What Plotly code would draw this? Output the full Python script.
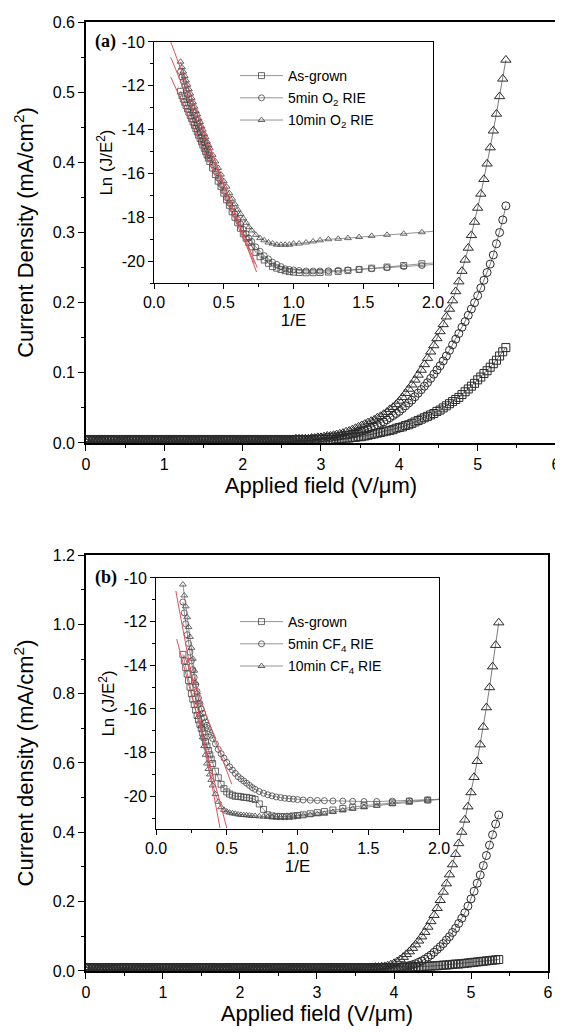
import plotly.graph_objects as go

# ---------------- data: main panels (applied field in V/um, J in mA/cm2) ----------------
field = [0.00, 0.04, 0.08, 0.12, 0.16, 0.20, 0.24, 0.28, 0.32, 0.36,
         0.40, 0.44, 0.48, 0.52, 0.56, 0.60, 0.64, 0.68, 0.72, 0.76,
         0.80, 0.84, 0.88, 0.92, 0.96, 1.00, 1.04, 1.08, 1.12, 1.16,
         1.20, 1.24, 1.28, 1.32, 1.36, 1.40, 1.44, 1.48, 1.52, 1.56,
         1.60, 1.64, 1.68, 1.72, 1.76, 1.80, 1.84, 1.88, 1.92, 1.96,
         2.00, 2.04, 2.08, 2.12, 2.16, 2.20, 2.24, 2.28, 2.32, 2.36,
         2.40, 2.44, 2.48, 2.52, 2.56, 2.60, 2.64, 2.68, 2.72, 2.76,
         2.80, 2.84, 2.88, 2.92, 2.96, 3.00, 3.04, 3.08, 3.12, 3.16,
         3.20, 3.24, 3.28, 3.32, 3.36, 3.40, 3.44, 3.48, 3.52, 3.56,
         3.60, 3.64, 3.68, 3.72, 3.76, 3.80, 3.84, 3.88, 3.92, 3.96,
         4.00, 4.04, 4.08, 4.12, 4.16, 4.20, 4.24, 4.28, 4.32, 4.36,
         4.40, 4.44, 4.48, 4.52, 4.56, 4.60, 4.64, 4.68, 4.72, 4.76,
         4.80, 4.84, 4.88, 4.92, 4.96, 5.00, 5.04, 5.08, 5.12, 5.16,
         5.20, 5.24, 5.28, 5.32, 5.36]

# (a) O2 RIE
ja_grown = [0.005, 0.005, 0.005, 0.005, 0.005, 0.005, 0.005, 0.005, 0.005, 0.005,
            0.005, 0.005, 0.005, 0.005, 0.005, 0.005, 0.005, 0.005, 0.005, 0.005,
            0.005, 0.005, 0.005, 0.005, 0.005, 0.005, 0.005, 0.005, 0.005, 0.005,
            0.005, 0.005, 0.005, 0.005, 0.005, 0.005, 0.005, 0.005, 0.005, 0.005,
            0.005, 0.005, 0.005, 0.005, 0.005, 0.005, 0.005, 0.005, 0.005, 0.005,
            0.005, 0.005, 0.005, 0.005, 0.005, 0.005, 0.005, 0.005, 0.005, 0.005,
            0.005, 0.005, 0.005, 0.005, 0.005, 0.005, 0.005, 0.005, 0.005, 0.005,
            0.005, 0.005, 0.005, 0.005, 0.005, 0.005, 0.005, 0.005, 0.005, 0.005,
            0.006, 0.006, 0.006, 0.007, 0.007, 0.008, 0.008, 0.009, 0.009, 0.010,
            0.011, 0.012, 0.013, 0.014, 0.015, 0.016, 0.017, 0.018, 0.019, 0.021,
            0.022, 0.023, 0.025, 0.026, 0.028, 0.030, 0.032, 0.034, 0.036, 0.038,
            0.040, 0.042, 0.045, 0.047, 0.050, 0.053, 0.056, 0.059, 0.062, 0.065,
            0.069, 0.073, 0.077, 0.081, 0.085, 0.090, 0.094, 0.099, 0.103, 0.108,
            0.113, 0.118, 0.124, 0.130, 0.136]
ja_5min = [0.005, 0.005, 0.005, 0.005, 0.005, 0.005, 0.005, 0.005, 0.005, 0.005,
           0.005, 0.005, 0.005, 0.005, 0.005, 0.005, 0.005, 0.005, 0.005, 0.005,
           0.005, 0.005, 0.005, 0.005, 0.005, 0.005, 0.005, 0.005, 0.005, 0.005,
           0.005, 0.005, 0.005, 0.005, 0.005, 0.005, 0.005, 0.005, 0.005, 0.005,
           0.005, 0.005, 0.005, 0.005, 0.005, 0.005, 0.005, 0.005, 0.005, 0.005,
           0.005, 0.005, 0.005, 0.005, 0.005, 0.005, 0.005, 0.005, 0.005, 0.005,
           0.005, 0.005, 0.005, 0.005, 0.005, 0.005, 0.005, 0.005, 0.005, 0.005,
           0.005, 0.005, 0.006, 0.006, 0.006, 0.007, 0.007, 0.008, 0.008, 0.009,
           0.009, 0.010, 0.011, 0.011, 0.012, 0.013, 0.014, 0.016, 0.017, 0.018,
           0.020, 0.022, 0.024, 0.026, 0.028, 0.030, 0.033, 0.036, 0.039, 0.042,
           0.045, 0.049, 0.053, 0.057, 0.061, 0.066, 0.071, 0.076, 0.081, 0.086,
           0.092, 0.098, 0.104, 0.110, 0.117, 0.124, 0.132, 0.140, 0.148, 0.156,
           0.165, 0.173, 0.182, 0.191, 0.200, 0.210, 0.221, 0.232, 0.243, 0.255,
           0.268, 0.284, 0.300, 0.318, 0.338]
ja_10min = [0.005, 0.005, 0.005, 0.005, 0.005, 0.005, 0.005, 0.005, 0.005, 0.005,
            0.005, 0.005, 0.005, 0.005, 0.005, 0.005, 0.005, 0.005, 0.005, 0.005,
            0.005, 0.005, 0.005, 0.005, 0.005, 0.005, 0.005, 0.005, 0.005, 0.005,
            0.005, 0.005, 0.005, 0.005, 0.005, 0.005, 0.005, 0.005, 0.005, 0.005,
            0.005, 0.005, 0.005, 0.005, 0.005, 0.005, 0.005, 0.005, 0.005, 0.005,
            0.005, 0.005, 0.005, 0.005, 0.005, 0.005, 0.005, 0.005, 0.005, 0.005,
            0.005, 0.005, 0.005, 0.005, 0.005, 0.005, 0.005, 0.006, 0.006, 0.006,
            0.006, 0.006, 0.007, 0.007, 0.008, 0.008, 0.009, 0.010, 0.010, 0.011,
            0.012, 0.013, 0.014, 0.016, 0.017, 0.019, 0.021, 0.023, 0.025, 0.027,
            0.029, 0.031, 0.033, 0.036, 0.038, 0.041, 0.044, 0.048, 0.051, 0.055,
            0.060, 0.065, 0.071, 0.077, 0.083, 0.090, 0.097, 0.104, 0.112, 0.121,
            0.130, 0.139, 0.149, 0.159, 0.169, 0.180, 0.191, 0.203, 0.216, 0.230,
            0.245, 0.261, 0.278, 0.296, 0.315, 0.335, 0.355, 0.376, 0.398, 0.421,
            0.445, 0.469, 0.494, 0.519, 0.546]

# (b) CF4 RIE
jb_grown = [0.010, 0.010, 0.010, 0.010, 0.010, 0.010, 0.010, 0.010, 0.010, 0.010,
            0.010, 0.010, 0.010, 0.010, 0.010, 0.010, 0.010, 0.010, 0.010, 0.010,
            0.010, 0.010, 0.010, 0.010, 0.010, 0.010, 0.010, 0.010, 0.010, 0.010,
            0.010, 0.010, 0.010, 0.010, 0.010, 0.010, 0.010, 0.010, 0.010, 0.010,
            0.010, 0.010, 0.010, 0.010, 0.010, 0.010, 0.010, 0.010, 0.010, 0.010,
            0.010, 0.010, 0.010, 0.010, 0.010, 0.010, 0.010, 0.010, 0.010, 0.010,
            0.010, 0.010, 0.010, 0.010, 0.010, 0.010, 0.010, 0.010, 0.010, 0.010,
            0.010, 0.010, 0.010, 0.010, 0.010, 0.010, 0.010, 0.010, 0.010, 0.010,
            0.010, 0.010, 0.010, 0.010, 0.010, 0.010, 0.010, 0.010, 0.010, 0.010,
            0.010, 0.010, 0.010, 0.010, 0.010, 0.010, 0.010, 0.010, 0.010, 0.010,
            0.010, 0.010, 0.010, 0.011, 0.011, 0.011, 0.012, 0.012, 0.012, 0.013,
            0.013, 0.014, 0.014, 0.015, 0.015, 0.016, 0.017, 0.017, 0.018, 0.019,
            0.020, 0.020, 0.021, 0.022, 0.023, 0.024, 0.025, 0.026, 0.027, 0.028,
            0.029, 0.030, 0.031, 0.032, 0.033]
jb_5min = [0.010, 0.010, 0.010, 0.010, 0.010, 0.010, 0.010, 0.010, 0.010, 0.010,
           0.010, 0.010, 0.010, 0.010, 0.010, 0.010, 0.010, 0.010, 0.010, 0.010,
           0.010, 0.010, 0.010, 0.010, 0.010, 0.010, 0.010, 0.010, 0.010, 0.010,
           0.010, 0.010, 0.010, 0.010, 0.010, 0.010, 0.010, 0.010, 0.010, 0.010,
           0.010, 0.010, 0.010, 0.010, 0.010, 0.010, 0.010, 0.010, 0.010, 0.010,
           0.010, 0.010, 0.010, 0.010, 0.010, 0.010, 0.010, 0.010, 0.010, 0.010,
           0.010, 0.010, 0.010, 0.010, 0.010, 0.010, 0.010, 0.010, 0.010, 0.010,
           0.010, 0.010, 0.010, 0.010, 0.010, 0.010, 0.010, 0.010, 0.010, 0.010,
           0.010, 0.010, 0.010, 0.010, 0.010, 0.010, 0.010, 0.010, 0.010, 0.010,
           0.010, 0.010, 0.010, 0.010, 0.010, 0.010, 0.010, 0.010, 0.010, 0.010,
           0.010, 0.010, 0.011, 0.012, 0.013, 0.016, 0.018, 0.021, 0.025, 0.029,
           0.034, 0.040, 0.046, 0.054, 0.062, 0.070, 0.079, 0.089, 0.099, 0.111,
           0.123, 0.137, 0.152, 0.168, 0.187, 0.208, 0.230, 0.253, 0.277, 0.304,
           0.333, 0.363, 0.393, 0.424, 0.450]
jb_10min = [0.010, 0.010, 0.010, 0.010, 0.010, 0.010, 0.010, 0.010, 0.010, 0.010,
            0.010, 0.010, 0.010, 0.010, 0.010, 0.010, 0.010, 0.010, 0.010, 0.010,
            0.010, 0.010, 0.010, 0.010, 0.010, 0.010, 0.010, 0.010, 0.010, 0.010,
            0.010, 0.010, 0.010, 0.010, 0.010, 0.010, 0.010, 0.010, 0.010, 0.010,
            0.010, 0.010, 0.010, 0.010, 0.010, 0.010, 0.010, 0.010, 0.010, 0.010,
            0.010, 0.010, 0.010, 0.010, 0.010, 0.010, 0.010, 0.010, 0.010, 0.010,
            0.010, 0.010, 0.010, 0.010, 0.010, 0.010, 0.010, 0.010, 0.010, 0.010,
            0.010, 0.010, 0.010, 0.010, 0.010, 0.010, 0.010, 0.010, 0.010, 0.010,
            0.010, 0.010, 0.010, 0.010, 0.010, 0.010, 0.010, 0.010, 0.010, 0.010,
            0.010, 0.010, 0.010, 0.010, 0.011, 0.011, 0.012, 0.013, 0.015, 0.018,
            0.022, 0.027, 0.033, 0.040, 0.048, 0.056, 0.066, 0.076, 0.087, 0.099,
            0.112, 0.127, 0.143, 0.161, 0.181, 0.204, 0.228, 0.252, 0.278, 0.307,
            0.337, 0.368, 0.401, 0.436, 0.474, 0.515, 0.559, 0.605, 0.653, 0.704,
            0.760, 0.818, 0.878, 0.940, 1.005]

# ---------------- data: insets, F-N plots (1/E vs Ln(J/E^2)) ----------------
inv_e = [0.19, 0.20, 0.21, 0.22, 0.23, 0.24, 0.25, 0.26, 0.27, 0.28,
         0.29, 0.30, 0.31, 0.32, 0.33, 0.34, 0.35, 0.36, 0.37, 0.38,
         0.39, 0.40, 0.42, 0.44, 0.46, 0.48, 0.50, 0.52, 0.54, 0.56,
         0.58, 0.60, 0.62, 0.64, 0.66, 0.68, 0.70, 0.73, 0.76, 0.79,
         0.82, 0.85, 0.88, 0.91, 0.94, 0.97, 1.00, 1.04, 1.09, 1.14,
         1.19, 1.25, 1.32, 1.39, 1.47, 1.56, 1.67, 1.79, 1.92, 2.08]

fn_a_grown = [-12.25, -12.45, -12.6, -12.75, -12.9, -13.05, -13.2, -13.35, -13.5, -13.65,
              -13.8, -13.95, -14.1, -14.25, -14.4, -14.55, -14.7, -14.85, -15.0, -15.15,
              -15.3, -15.45, -15.75, -16.05, -16.35, -16.6, -16.9, -17.2, -17.45, -17.75,
              -18.0, -18.25, -18.5, -18.75, -18.95, -19.15, -19.35, -19.6, -19.8, -19.95,
              -20.1, -20.25, -20.32, -20.38, -20.44, -20.48, -20.5, -20.52, -20.53, -20.53,
              -20.52, -20.5, -20.47, -20.43, -20.38, -20.32, -20.27, -20.2, -20.12, -20.05]
fn_a_5min = [-11.35, -11.6, -11.8, -12.0, -12.2, -12.4, -12.6, -12.8, -13.0, -13.2,
             -13.35, -13.55, -13.75, -13.9, -14.1, -14.3, -14.45, -14.6, -14.8, -14.95,
             -15.15, -15.3, -15.6, -15.9, -16.2, -16.5, -16.8, -17.1, -17.35, -17.6,
             -17.85, -18.1, -18.3, -18.55, -18.75, -18.95, -19.1, -19.35, -19.55, -19.75,
             -19.9, -20.05, -20.15, -20.25, -20.35, -20.38, -20.4, -20.43, -20.45, -20.45,
             -20.45, -20.44, -20.42, -20.4, -20.38, -20.35, -20.3, -20.25, -20.2, -20.12]
fn_a_10min = [-10.9, -11.15, -11.35, -11.55, -11.75, -11.95, -12.15, -12.35, -12.55, -12.75,
              -12.95, -13.15, -13.3, -13.5, -13.65, -13.85, -14.0, -14.2, -14.35, -14.55,
              -14.7, -14.85, -15.15, -15.45, -15.75, -16.05, -16.35, -16.6, -16.9, -17.15,
              -17.4, -17.65, -17.85, -18.05, -18.25, -18.45, -18.6, -18.8, -18.95, -19.05,
              -19.15, -19.2, -19.25, -19.25, -19.25, -19.25, -19.2, -19.2, -19.15, -19.1,
              -19.05, -19.0, -18.98, -18.95, -18.9, -18.85, -18.8, -18.75, -18.68, -18.6]

fn_b_grown = [-13.5, -13.8, -14.1, -14.4, -14.7, -15.0, -15.3, -15.55, -15.8, -16.05,
              -16.3, -16.5, -16.7, -16.9, -17.1, -17.3, -17.5, -17.7, -17.9, -18.1,
              -18.3, -18.5, -18.85, -19.15, -19.45, -19.65, -19.8, -19.9, -19.95, -20.0,
              -20.0, -20.02, -20.05, -20.05, -20.08, -20.1, -20.15, -20.35, -20.6, -20.85,
              -20.9, -20.92, -20.93, -20.93, -20.92, -20.9, -20.88, -20.85, -20.8, -20.75,
              -20.7, -20.63, -20.56, -20.5, -20.43, -20.37, -20.3, -20.23, -20.17, -20.1]
fn_b_5min = [-11.1, -11.6, -12.1, -12.6, -13.0, -13.4, -13.8, -14.2, -14.55, -14.9,
             -15.2, -15.5, -15.75, -16.0, -16.2, -16.4, -16.6, -16.75, -16.9, -17.05,
             -17.2, -17.35, -17.6, -17.85, -18.05, -18.25, -18.45, -18.65, -18.8, -18.95,
             -19.1, -19.2, -19.3, -19.4, -19.5, -19.6, -19.68, -19.78, -19.86, -19.93,
             -19.98, -20.03, -20.06, -20.09, -20.11, -20.13, -20.15, -20.17, -20.18, -20.19,
             -20.2, -20.21, -20.22, -20.23, -20.24, -20.24, -20.22, -20.2, -20.17, -20.12]
fn_b_10min = [-10.3, -10.8, -11.3, -11.8, -12.25, -12.7, -13.2, -13.7, -14.25, -14.8,
              -15.25, -15.7, -16.25, -16.8, -17.3, -17.7, -18.1, -18.5, -18.75, -19.0,
              -19.25, -19.5, -19.9, -20.25, -20.5, -20.62, -20.7, -20.75, -20.78, -20.8,
              -20.83, -20.85, -20.86, -20.87, -20.88, -20.9, -20.9, -20.92, -20.93, -20.94,
              -20.95, -20.95, -20.95, -20.95, -20.94, -20.92, -20.9, -20.88, -20.85, -20.82,
              -20.8, -20.72, -20.65, -20.57, -20.5, -20.43, -20.35, -20.27, -20.18, -20.1]

# linear F-N fits (red lines), start / end points
fit_a_x = [[0.12, 0.735], [0.12, 0.74], [0.12, 0.72]]
fit_a_y = [[-10.0, -20.5], [-10.7, -20.3], [-11.6, -20.1]]
fit_b_x = [[0.14, 0.452], [0.146, 0.50], [0.20, 0.535]]
fit_b_y = [[-10.6, -21.45], [-12.8, -21.45], [-13.55, -19.45]]

names_a = ['As-grown', '5min O<sub>2</sub> RIE', '10min O<sub>2</sub> RIE']
names_b = ['As-grown', '5min CF<sub>4</sub> RIE', '10min CF<sub>4</sub> RIE']
symbols = ['square-open', 'circle-open', 'triangle-up-open']
main_sizes = [8, 8, 9]

FONT = 'Liberation Sans'
fig = go.Figure()

# main curves
for xa, ya, series in [('x', 'y', [ja_grown, ja_5min, ja_10min]),
                       ('x3', 'y3', [jb_grown, jb_5min, jb_10min])]:
    for k in range(3):
        fig.add_trace(go.Scatter(
            x=field, y=series[k], mode='lines+markers',
            marker=dict(symbol=symbols[k], size=main_sizes[k], color='#2a2a2a',
                        line=dict(width=1)),
            line=dict(color='#444444', width=0.7),
            xaxis=xa, yaxis=ya, showlegend=False))

# inset curves (these carry the legends)
for xa, ya, series, names, leg in [('x2', 'y2', [fn_a_grown, fn_a_5min, fn_a_10min], names_a, 'legend'),
                                   ('x4', 'y4', [fn_b_grown, fn_b_5min, fn_b_10min], names_b, 'legend2')]:
    for k in range(3):
        fig.add_trace(go.Scatter(
            x=inv_e, y=series[k], mode='lines+markers', name=names[k],
            legendgroup=leg + str(k),
            marker=dict(symbol=symbols[k], size=6, color='#444444', line=dict(width=0.8)),
            line=dict(color='#777777', width=0.8),
            xaxis=xa, yaxis=ya, legend=leg))

# red fit lines on top
for xa, ya, fx, fy in [('x2', 'y2', fit_a_x, fit_a_y), ('x4', 'y4', fit_b_x, fit_b_y)]:
    for k in range(3):
        fig.add_trace(go.Scatter(x=fx[k], y=fy[k], mode='lines',
                                 line=dict(color='#e0505a', width=1),
                                 xaxis=xa, yaxis=ya, showlegend=False))

tickfont = dict(family=FONT, size=16, color='black')
titlefont = dict(family=FONT, size=22, color='black')
inset_title = dict(family=FONT, size=17, color='black')


def main_x(domain, anchor):
    return dict(domain=domain, anchor=anchor, range=[0, 6], dtick=1, tick0=0, automargin=False,
                ticks='outside', ticklen=6, tickwidth=1.3, tickcolor='black',
                minor=dict(dtick=0.5, ticks='outside', ticklen=3, tickwidth=1.2, tickcolor='black'),
                showline=True, linewidth=1.5, linecolor='black', mirror=True,
                showgrid=False, zeroline=False, tickfont=tickfont,
                title=dict(text='Applied field (V/\u03bcm)', font=titlefont, standoff=6))


def main_y(domain, anchor, top, step, title):
    return dict(domain=domain, anchor=anchor, range=[0, top], dtick=step, tick0=0, automargin=False,
                tickformat='.1f', ticks='outside', ticklen=6, tickwidth=1.3, tickcolor='black',
                minor=dict(dtick=step / 2, ticks='outside', ticklen=3, tickwidth=1.2, tickcolor='black'),
                showline=True, linewidth=1.5, linecolor='black', mirror=True,
                showgrid=False, zeroline=False, tickfont=tickfont,
                title=dict(text=title, font=titlefont, standoff=13))


def inset_x(domain, anchor):
    return dict(domain=domain, anchor=anchor, range=[0, 2], dtick=0.5, tick0=0, automargin=False,
                tickformat='.1f', ticks='outside', ticklen=5, tickwidth=1, tickcolor='black',
                minor=dict(dtick=0.25, ticks='outside', ticklen=3, tickwidth=1, tickcolor='black'),
                showline=True, linewidth=1, linecolor='black', mirror=True,
                showgrid=False, zeroline=False, tickfont=tickfont,
                title=dict(text='1/E', font=inset_title, standoff=2))


def inset_y(domain, anchor, bottom):
    vals = [-20, -18, -16, -14, -12, -10]
    return dict(domain=domain, anchor=anchor, range=[bottom, -10], automargin=False,
                tickvals=vals, ticktext=[str(v) for v in vals],
                ticks='outside', ticklen=5, tickwidth=1, tickcolor='black',
                minor=dict(tickvals=[-21, -19, -17, -15, -13, -11], ticks='outside', ticklen=3,
                           tickwidth=1, tickcolor='black'),
                showline=True, linewidth=1, linecolor='black', mirror=True,
                showgrid=False, zeroline=False, tickfont=tickfont,
                title=dict(text='Ln (J/E<sup>2</sup>)', font=inset_title, standoff=4))


legend_style = dict(font=dict(family=FONT, size=14, color='black'), bgcolor='rgba(0,0,0,0)',
                    borderwidth=0, xanchor='left', yanchor='top', tracegroupgap=1,
                    itemwidth=43)

# the page has an 8px body margin, so the figure is drawn 8px smaller
fig.update_layout(
    width=555, height=1024,
    margin=dict(l=0, r=0, t=0, b=0),
    paper_bgcolor='white', plot_bgcolor='white',
    font=dict(family=FONT, color='black'),
    xaxis=main_x([0.1405, 0.9874], 'y'),
    yaxis=main_y([0.5752, 0.9863], 'x', 0.6, 0.1, 'Current Density (mA/cm<sup>2</sup>)'),
    xaxis2=inset_x([0.2631, 0.7658], 'y2'),
    yaxis2=inset_y([0.7314, 0.9668], 'x2', -21),
    xaxis3=main_x([0.1405, 0.9730], 'y3'),
    yaxis3=main_y([0.0596, 0.4658], 'x3', 1.2, 0.2, 'Current density (mA/cm<sup>2</sup>)'),
    xaxis4=inset_x([0.2667, 0.7766], 'y4'),
    yaxis4=inset_y([0.1982, 0.4434], 'x4', -21.5),
    legend=dict(x=0.409, y=0.9492, **legend_style),
    legend2=dict(x=0.409, y=0.416, **legend_style),
    annotations=[
        dict(text='<b>(a)</b>', x=0.153, y=0.9668, xref='paper', yref='paper',
             xanchor='left', yanchor='middle', showarrow=False,
             font=dict(family='Liberation Serif', size=18, color='black')),
        dict(text='<b>(b)</b>', x=0.153, y=0.4434, xref='paper', yref='paper',
             xanchor='left', yanchor='middle', showarrow=False,
             font=dict(family='Liberation Serif', size=18, color='black')),
    ],
)

fig.write_html("out.html")
